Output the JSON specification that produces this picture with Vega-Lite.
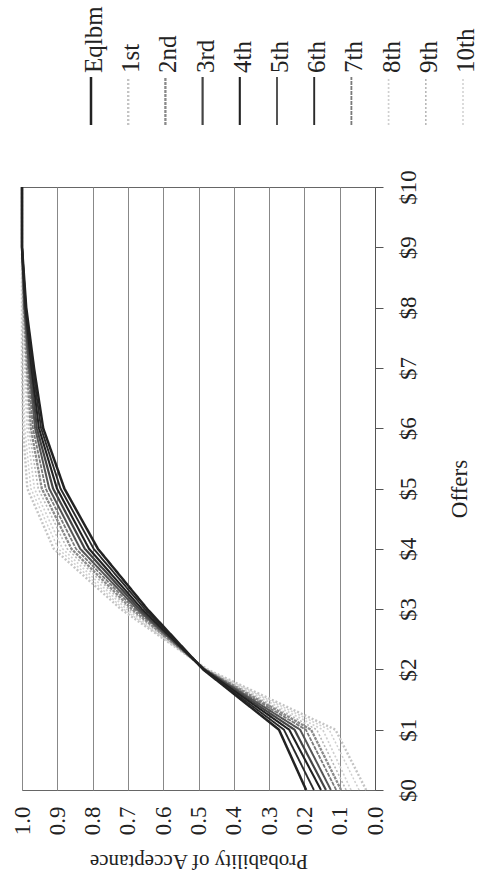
{
  "$schema": "https://vega.github.io/schema/vega-lite/v6.json",
  "padding": {"left": 10, "top": 5, "right": 0, "bottom": 0},
  "config": {"font": "Liberation Serif", "view": {"stroke": null}},
  "spacing": 42,
  "datasets": {
    "series": [
      {"s": "Eqlbm"}, {"s": "1st"}, {"s": "2nd"}, {"s": "3rd"}, {"s": "4th"}, {"s": "5th"},
      {"s": "6th"}, {"s": "7th"}, {"s": "8th"}, {"s": "9th"}, {"s": "10th"}
    ],
    "curves": [
      {"s":"1st","o":0,"p":0.025},{"s":"1st","o":1,"p":0.112},{"s":"1st","o":2,"p":0.475},{"s":"1st","o":3,"p":0.72},{"s":"1st","o":4,"p":0.91},{"s":"1st","o":5,"p":0.985},{"s":"1st","o":6,"p":0.997},{"s":"1st","o":7,"p":1.0},{"s":"1st","o":8,"p":1.0},{"s":"1st","o":9,"p":1.0},{"s":"1st","o":10,"p":1.0},
      {"s":"10th","o":0,"p":0.045},{"s":"10th","o":1,"p":0.13},{"s":"10th","o":2,"p":0.477},{"s":"10th","o":3,"p":0.712},{"s":"10th","o":4,"p":0.897},{"s":"10th","o":5,"p":0.975},{"s":"10th","o":6,"p":0.992},{"s":"10th","o":7,"p":0.997},{"s":"10th","o":8,"p":0.999},{"s":"10th","o":9,"p":1.0},{"s":"10th","o":10,"p":1.0},
      {"s":"8th","o":0,"p":0.068},{"s":"8th","o":1,"p":0.148},{"s":"8th","o":2,"p":0.479},{"s":"8th","o":3,"p":0.704},{"s":"8th","o":4,"p":0.885},{"s":"8th","o":5,"p":0.965},{"s":"8th","o":6,"p":0.986},{"s":"8th","o":7,"p":0.993},{"s":"8th","o":8,"p":0.998},{"s":"8th","o":9,"p":1.0},{"s":"8th","o":10,"p":1.0},
      {"s":"9th","o":0,"p":0.082},{"s":"9th","o":1,"p":0.165},{"s":"9th","o":2,"p":0.48},{"s":"9th","o":3,"p":0.696},{"s":"9th","o":4,"p":0.872},{"s":"9th","o":5,"p":0.954},{"s":"9th","o":6,"p":0.981},{"s":"9th","o":7,"p":0.99},{"s":"9th","o":8,"p":0.996},{"s":"9th","o":9,"p":1.0},{"s":"9th","o":10,"p":1.0},
      {"s":"2nd","o":0,"p":0.096},{"s":"2nd","o":1,"p":0.181},{"s":"2nd","o":2,"p":0.481},{"s":"2nd","o":3,"p":0.689},{"s":"2nd","o":4,"p":0.86},{"s":"2nd","o":5,"p":0.944},{"s":"2nd","o":6,"p":0.975},{"s":"2nd","o":7,"p":0.986},{"s":"2nd","o":8,"p":0.995},{"s":"2nd","o":9,"p":1.0},{"s":"2nd","o":10,"p":1.0},
      {"s":"7th","o":0,"p":0.11},{"s":"7th","o":1,"p":0.196},{"s":"7th","o":2,"p":0.482},{"s":"7th","o":3,"p":0.681},{"s":"7th","o":4,"p":0.847},{"s":"7th","o":5,"p":0.933},{"s":"7th","o":6,"p":0.969},{"s":"7th","o":7,"p":0.983},{"s":"7th","o":8,"p":0.994},{"s":"7th","o":9,"p":1.0},{"s":"7th","o":10,"p":1.0},
      {"s":"5th","o":0,"p":0.125},{"s":"5th","o":1,"p":0.212},{"s":"5th","o":2,"p":0.483},{"s":"5th","o":3,"p":0.674},{"s":"5th","o":4,"p":0.835},{"s":"5th","o":5,"p":0.923},{"s":"5th","o":6,"p":0.963},{"s":"5th","o":7,"p":0.98},{"s":"5th","o":8,"p":0.993},{"s":"5th","o":9,"p":1.0},{"s":"5th","o":10,"p":1.0},
      {"s":"3rd","o":0,"p":0.139},{"s":"3rd","o":1,"p":0.228},{"s":"3rd","o":2,"p":0.484},{"s":"3rd","o":3,"p":0.667},{"s":"3rd","o":4,"p":0.822},{"s":"3rd","o":5,"p":0.912},{"s":"3rd","o":6,"p":0.958},{"s":"3rd","o":7,"p":0.976},{"s":"3rd","o":8,"p":0.992},{"s":"3rd","o":9,"p":1.0},{"s":"3rd","o":10,"p":1.0},
      {"s":"4th","o":0,"p":0.153},{"s":"4th","o":1,"p":0.243},{"s":"4th","o":2,"p":0.485},{"s":"4th","o":3,"p":0.66},{"s":"4th","o":4,"p":0.81},{"s":"4th","o":5,"p":0.901},{"s":"4th","o":6,"p":0.952},{"s":"4th","o":7,"p":0.973},{"s":"4th","o":8,"p":0.99},{"s":"4th","o":9,"p":1.0},{"s":"4th","o":10,"p":1.0},
      {"s":"6th","o":0,"p":0.173},{"s":"6th","o":1,"p":0.258},{"s":"6th","o":2,"p":0.486},{"s":"6th","o":3,"p":0.652},{"s":"6th","o":4,"p":0.797},{"s":"6th","o":5,"p":0.891},{"s":"6th","o":6,"p":0.946},{"s":"6th","o":7,"p":0.97},{"s":"6th","o":8,"p":0.989},{"s":"6th","o":9,"p":1.0},{"s":"6th","o":10,"p":1.0},
      {"s":"Eqlbm","o":0,"p":0.195},{"s":"Eqlbm","o":1,"p":0.272},{"s":"Eqlbm","o":2,"p":0.487},{"s":"Eqlbm","o":3,"p":0.645},{"s":"Eqlbm","o":4,"p":0.785},{"s":"Eqlbm","o":5,"p":0.88},{"s":"Eqlbm","o":6,"p":0.94},{"s":"Eqlbm","o":7,"p":0.966},{"s":"Eqlbm","o":8,"p":0.988},{"s":"Eqlbm","o":9,"p":1.0},{"s":"Eqlbm","o":10,"p":1.0}
    ]
  },
  "vconcat": [
    {
      "width": 455,
      "height": 121,
      "data": {"name": "series"},
      "layer": [
        {
          "mark": {"type": "rule", "strokeCap": "butt"},
          "encoding": {
            "x": {"field": "s", "type": "nominal", "scale": {"type": "point", "padding": 0, "domain": ["Eqlbm","1st","2nd","3rd","4th","5th","6th","7th","8th","9th","10th"], "range": [69, 441]}, "axis": null},
            "y": {"datum": 1, "type": "quantitative", "scale": {"domain": [0, 121], "nice": false}, "axis": null},
            "y2": {"datum": 49},
            "color": {"field": "s", "type": "nominal", "legend": null},
            "strokeDash": {"field": "s", "type": "nominal", "legend": null},
            "strokeWidth": {"field": "s", "type": "nominal", "legend": null}
          }
        },
        {
          "mark": {"type": "text", "angle": -90, "align": "left", "baseline": "middle", "dy": 3, "fontSize": 25, "color": "#222"},
          "encoding": {
            "x": {"field": "s", "type": "nominal"},
            "y": {"datum": 53, "type": "quantitative"},
            "text": {"field": "s"}
          }
        }
      ]
    },
    {
      "width": 353,
      "height": 603,
      "view": {"stroke": "#666", "strokeWidth": 1},
      "data": {"name": "curves"},
      "mark": {"type": "line", "interpolate": "linear"},
      "encoding": {
        "x": {
          "field": "p", "type": "quantitative",
          "scale": {"domain": [0, 1], "reverse": true, "nice": false, "zero": false},
          "axis": {
            "values": [0, 0.1, 0.2, 0.3, 0.4, 0.5, 0.6, 0.7, 0.8, 0.9, 1.0],
            "format": ".1f", "labelAngle": -90, "labelAlign": "right", "labelBaseline": "middle",
            "labelFontSize": 23, "labelColor": "#222", "labelPadding": 16, "labelFlush": false, "labelOverlap": false,
            "ticks": false, "domain": false, "grid": true, "gridColor": "#888", "gridWidth": 1,
            "title": "Probability of Acceptance", "titleAngle": 180, "titleBaseline": "bottom",
            "titleFontSize": 21, "titleFontWeight": "normal", "titleColor": "#222", "titlePadding": 16
          }
        },
        "y": {
          "field": "o", "type": "quantitative",
          "scale": {"domain": [0, 10], "nice": false},
          "axis": {
            "orient": "right", "values": [0, 1, 2, 3, 4, 5, 6, 7, 8, 9, 10],
            "labelExpr": "'$' + datum.value", "labelAngle": -90, "labelAlign": "center", "labelBaseline": "top",
            "labelFontSize": 23, "labelColor": "#222", "labelPadding": 14, "labelFlush": false, "labelOverlap": false,
            "tickSize": 8, "tickColor": "#555", "domainColor": "#555", "grid": false,
            "title": "Offers", "titleAngle": -90, "titleBaseline": "top", "titleFontSize": 23,
            "titleFontWeight": "normal", "titleColor": "#222", "titlePadding": 28
          }
        },
        "order": {"field": "o", "type": "quantitative"},
        "detail": {"field": "s"},
        "color": {
          "field": "s", "type": "nominal", "legend": null,
          "scale": {"domain": ["Eqlbm","1st","2nd","3rd","4th","5th","6th","7th","8th","9th","10th"],
                    "range": ["#222222","#c4c4c4","#8a8a8a","#444444","#222222","#555555","#2a2a2a","#7a7a7a","#d0d0d0","#b8b8b8","#cfcfcf"]}
        },
        "strokeDash": {
          "field": "s", "type": "nominal", "legend": null,
          "scale": {"domain": ["Eqlbm","1st","2nd","3rd","4th","5th","6th","7th","8th","9th","10th"],
                    "range": [[1,0],[2,2],[3,1],[1,0],[1,0],[1,0],[1,0],[4,1],[2,2],[2,2],[2,2]]}
        },
        "strokeWidth": {
          "field": "s", "type": "nominal", "legend": null,
          "scale": {"domain": ["Eqlbm","1st","2nd","3rd","4th","5th","6th","7th","8th","9th","10th"],
                    "range": [2.5, 1.5, 2, 2, 2, 2, 2, 2, 1.5, 1.5, 1.5]}
        }
      }
    }
  ]
}
